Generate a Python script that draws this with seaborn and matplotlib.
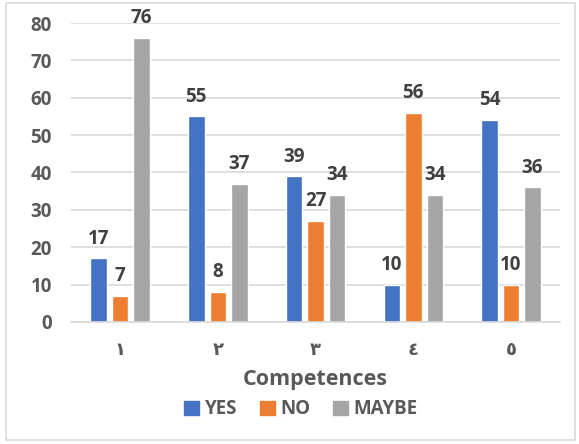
import pandas as pd
import matplotlib.pyplot as plt
import matplotlib.patches as mpatches
import seaborn as sns

# ── Data ───────────────────────────────────────────────
categories = ["١", "٢", "٣", "٤", "٥"]
yes_vals   = [17, 55, 39, 10, 54]
no_vals    = [7, 8, 27, 56, 10]
maybe_vals = [76, 37, 34, 34, 36]
series     = ["YES", "NO", "MAYBE"]

PALETTE = {"YES": "#4472C4", "NO": "#ED7D31", "MAYBE": "#A5A5A5"}
TXT = "#595959"

df = pd.DataFrame({
    "competence": categories * 3,
    "answer": ["YES"] * 5 + ["NO"] * 5 + ["MAYBE"] * 5,
    "count": yes_vals + no_vals + maybe_vals,
})

sns.set_theme(style="white")
plt.rcParams["font.family"] = ["Open Sans", "DejaVu Sans"]

fig = plt.figure(figsize=(5.79, 4.44), dpi=100)
ax = fig.add_axes([0.123, 0.275, 0.844, 0.673])

sns.barplot(data=df, x="competence", y="count", hue="answer",
            hue_order=series, palette=PALETTE, width=0.66, gap=0.23,
            saturation=1, ax=ax, legend=False)

for cont in ax.containers:
    ax.bar_label(cont, padding=7, fontsize=13.5, fontweight="bold", color="#404040")

ax.set_ylim(0, 80)
ax.set_yticks(range(0, 81, 10))
ax.yaxis.grid(True, color="#D9D9D9", linewidth=1.2)
ax.set_axisbelow(True)
for s in ["top", "right", "left"]:
    ax.spines[s].set_visible(False)
ax.spines["bottom"].set_color("#D9D9D9")
ax.spines["bottom"].set_linewidth(1.2)
ax.tick_params(axis="y", length=0, labelsize=13.5, labelcolor=TXT, pad=14)
ax.tick_params(axis="x", length=0, labelsize=13, labelcolor=TXT, pad=14)
for lbl in ax.get_yticklabels() + ax.get_xticklabels():
    lbl.set_fontweight("bold")
ax.set_ylabel("")
ax.set_xlabel("Competences", fontsize=15.5, fontweight="bold", color=TXT, labelpad=7)

handles = [mpatches.Patch(color=PALETTE[s], label=s) for s in series]
leg = fig.legend(handles=handles, loc="center", bbox_to_anchor=(0.52, 0.078),
                 ncol=3, frameon=False, handlelength=0.8, handleheight=0.8,
                 handletextpad=0.3, columnspacing=1.2,
                 prop={"size": 13.5, "weight": "bold"})
for t in leg.get_texts():
    t.set_color(TXT)

fig.patches.append(mpatches.Rectangle((0.01, 0.008), 0.983, 0.985, transform=fig.transFigure,
                                      fill=False, edgecolor="#D9D9D9", linewidth=1.2))

fig.savefig("out.png", dpi=100)
